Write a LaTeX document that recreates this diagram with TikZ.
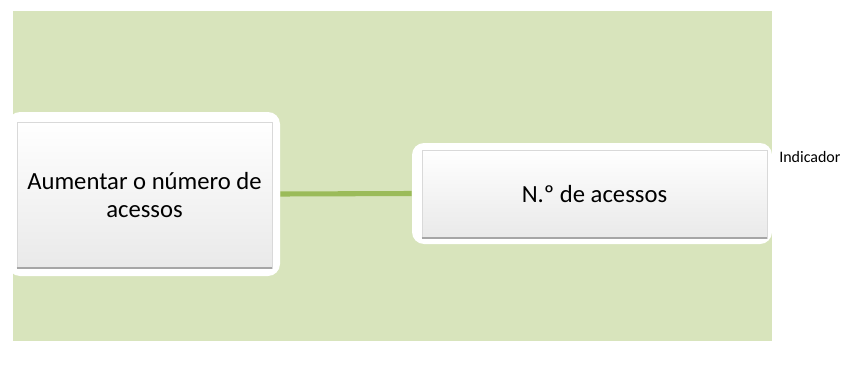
\documentclass[tikz,border=0pt]{standalone}
\usepackage{fontspec}
\setmainfont{Carlito}
\usetikzlibrary{positioning,shadows}
\definecolor{fundoVerde}{HTML}{D8E4BC}
\definecolor{linhaVerde}{HTML}{9BBB59}
\definecolor{caixaCinza}{HTML}{E9E9E9}

\begin{document}
\begin{tikzpicture}[x=0.75pt, y=-0.75pt,
    every node/.style={align=center},
    moldura/.style={fill=white, rounded corners=9pt, inner sep=0pt},
    caixa/.style={top color=white, bottom color=caixaCinza, draw=white!85!black,
                  line width=0.4pt, inner sep=0pt,
                  font=\fontsize{18.5}{21}\selectfont},
    ligacao/.style={linhaVerde, line width=3.8pt}]
    \useasboundingbox (0,0) rectangle (842,371);
    \fill[fundoVerde] (13,11) rectangle (772,341);
    % molduras brancas
    \node[moldura, minimum width=272*0.75pt, minimum height=164*0.75pt] (fObj) at (144,194) {};
    \node[moldura, minimum width=360*0.75pt, minimum height=101*0.75pt] (fInd) at (592,193.5) {};
    % ligacao
    \draw[ligacao] (fObj.east) -- (fInd.west);
    % caixas
    \node[caixa, minimum width=255*0.75pt, minimum height=146*0.75pt] (objetivo) at (144.5,195)
        {Aumentar o número de\\acessos};
    \node[caixa, minimum width=345*0.75pt, minimum height=88*0.75pt] (indicador) at (594.5,194)
        {N.º de acessos};
    \draw[gray!70, line width=1.5pt] (objetivo.south west) -- (objetivo.south east);
    \draw[gray!70, line width=1.5pt] (indicador.south west) -- (indicador.south east);
    \node[anchor=west, inner sep=0pt, font=\fontsize{12}{14}\selectfont] (rotulo) at (779,157) {Indicador};
\end{tikzpicture}
\end{document}
